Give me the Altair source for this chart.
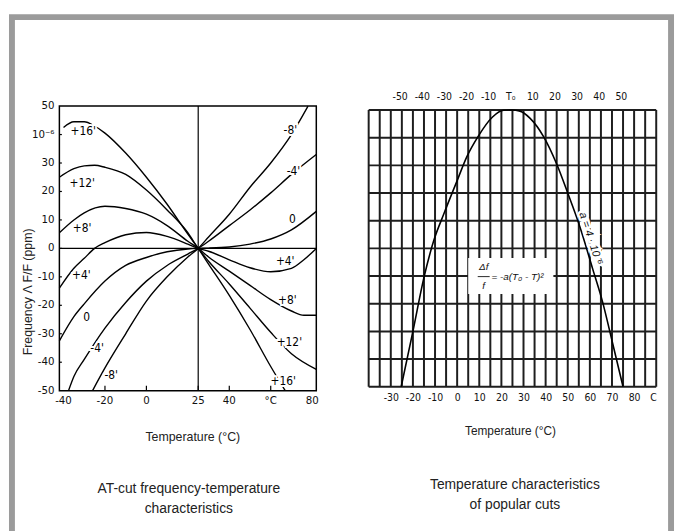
import altair as alt
import pandas as pd

NARROW = "Liberation Sans Narrow, DejaVu Sans Condensed, Liberation Sans, sans-serif"
SANS = "Liberation Sans, Arial, sans-serif"

# ---------------- Left chart: AT-cut curves (temperature °C, ΔF/F ppm) ----------------
curve_names = ["+16'", "+12'", "+8'", "+4'", "0", "-4'", "-8'"]
t_p16 = [-40, -35, -30, -25, -20, -10, 0, 10, 20, 25, 30, 40, 50, 60, 67]
v_p16 = [42.5, 44.5, 44.5, 43, 40.5, 33.5, 25, 15.5, 5, 0, -5.5, -16.5, -28.5, -41.5, -50]
t_p12 = [-42, -35, -30, -25, -20, -10, 0, 10, 20, 25, 30, 40, 50, 60, 70, 82]
v_p12 = [25, 28, 29, 29.2, 28.5, 26, 20.5, 13.5, 5.5, 0, -4.5, -12.5, -21, -29.5, -37, -42.5]
t_p8 = [-42, -35, -30, -20, -10, 0, 10, 20, 25, 30, 40, 50, 60, 70, 76, 82]
v_p8 = [5.5, 10, 12.5, 14.8, 14, 12, 8, 2.5, 0, -3, -8, -13, -18, -22, -23.5, -23.5]
t_p4 = [-42, -35, -30, -25, -20, -10, 0, 10, 20, 25, 30, 40, 50, 60, 70, 76, 82]
v_p4 = [-14, -7, -3.5, 0, 2, 4.8, 5.6, 4.2, 1.5, 0, -1, -4, -6.8, -8.2, -7, -4, 0]
t_z = [-42, -35, -30, -20, -10, 0, 10, 20, 25, 30, 40, 50, 60, 70, 82]
v_z = [-32.5, -24, -19.5, -11.5, -6, -3.2, -1.2, -0.2, 0, 0.1, 0.5, 1.5, 3.3, 6.5, 13]
t_m4 = [-37.6, -35, -30, -20, -10, 0, 10, 20, 25, 30, 40, 50, 60, 70, 82]
v_m4 = [-50, -45, -39, -28, -19, -11.5, -6, -2, 0, 2.5, 8, 13.5, 19.5, 26, 33]
t_m8 = [-26, -20, -10, 0, 10, 20, 25, 30, 40, 50, 60, 70, 78]
v_m8 = [-50, -42, -30, -18.5, -10, -3, 0, 4, 12, 21.5, 30, 40, 50]

lab_left_text = ["+16'", "+12'", "+8'", "+4'", "0", "-4'", "-8'"]
lab_left_t = [-30.5, -31, -31, -31.4, -28.8, -23.8, -17]
lab_left_v = [41.3, 23, 7.3, -9.4, -24.3, -35, -44.4]
lab_right_text = ["-8'", "-4'", "0", "+4'", "+8'", "+12'", "+16'"]
lab_right_t = [69.5, 71, 70.5, 67, 68, 69, 66]
lab_right_v = [41.7, 27, 10.4, -4.5, -18, -33, -46.5]

left_x_ticks = [-40, -20, 0, 25, 40, 60, 80]
left_x_labels = ["-40", "-20", "0", "25", "40", "°C", "80"]
left_y_ticks = [50, 40, 30, 20, 10, 0, -10, -20, -30, -40, -50]
left_y_labels = ["50", "10⁻⁶", "30", "20", "10", "0", "-10", "-20", "-30", "-40", "-50"]

# ---------------- Right chart: parabolic cut ----------------
par_t = [-25.3, -20, -15, -10.5, -6, 0, 4.3, 9.5, 16, 21, 25, 28, 33, 39, 45, 50, 55.4, 61.3, 65.8, 70.2, 75]
par_v = [-100, -80, -60.5, -47, -37.5, -25.5, -17, -9.5, -2.5, -0.1, 0, -0.3, -3, -9.5, -19.5, -30, -42, -57.5, -69.5, -84, -100]
grid_h = [0, -10, -20, -30, -40, -50, -60, -70, -80, -90, -100]
grid_v = list(range(-40, 95, 5))
bottom_ticks = [-30, -20, -10, 0, 10, 20, 30, 40, 50, 60, 70, 80, 90]
top_pos = [-26, -16, -6, 4, 14, 24, 34, 44, 54, 64, 74]
top_labels = ["-50", "-40", "-30", "-20", "-10", "T₀", "10", "20", "30", "40", "50"]

LW, LH = 260, 288
RW, RH = 291, 288

# ---------- left chart ----------
rows = []
for name, ts, vs in zip(curve_names,
                        [t_p16, t_p12, t_p8, t_p4, t_z, t_m4, t_m8],
                        [v_p16, v_p12, v_p8, v_p4, v_z, v_m4, v_m8]):
    for t, v in zip(ts, vs):
        rows.append({"curve": name, "t": t, "v": v})
curves_df = pd.DataFrame(rows)

lx = alt.Scale(domain=[-42, 82], nice=False, zero=False)
ly = alt.Scale(domain=[-50, 50], nice=False, zero=False)

ref_df = pd.DataFrame({"t": [25], "v": [0], "t0": [-42], "t1": [82], "v0": [-50], "v1": [50]})
ref_v = alt.Chart(ref_df).mark_rule(color="black", strokeWidth=1.2).encode(
    x=alt.X("t:Q", scale=lx, axis=None),
    y=alt.Y("v0:Q", scale=ly, axis=None), y2="v1:Q")
ref_h = alt.Chart(ref_df).mark_rule(color="black", strokeWidth=1.2).encode(
    y=alt.Y("v:Q", scale=ly, axis=None),
    x=alt.X("t0:Q", scale=lx, axis=None), x2="t1:Q")

curves = alt.Chart(curves_df).mark_line(
    color="black", strokeWidth=1.4, interpolate="monotone"
).encode(
    x=alt.X("t:Q", scale=lx, axis=None),
    y=alt.Y("v:Q", scale=ly, axis=None),
    detail="curve:N",
)

ity = pd.DataFrame({"v": left_y_ticks[1:-1], "a": [-42] * 9, "b": [-40.8] * 9})
inner_y_ticks = alt.Chart(ity).mark_rule(color="black", strokeWidth=1.2).encode(
    y=alt.Y("v:Q", scale=ly, axis=None), x=alt.X("a:Q", scale=lx, axis=None), x2="b:Q")
itx = pd.DataFrame({"t": left_x_ticks[1:-1], "a": [-50] * 5, "b": [-48.3] * 5})
inner_x_ticks = alt.Chart(itx).mark_rule(color="black", strokeWidth=1.2).encode(
    x=alt.X("t:Q", scale=lx, axis=None), y=alt.Y("a:Q", scale=ly, axis=None), y2="b:Q")

# tick labels and titles drawn as text through the scales
ylab = alt.Chart(pd.DataFrame({"v": left_y_ticks, "s": left_y_labels})).mark_text(
    font=NARROW, fontSize=11.5, color="#111", align="right", baseline="middle", dx=-5).encode(
    y=alt.Y("v:Q", scale=ly, axis=None), x=alt.value(0), text="s:N")
xlab = alt.Chart(pd.DataFrame({"t": left_x_ticks, "s": left_x_labels})).mark_text(
    font=NARROW, fontSize=11.5, color="#111", align="center", baseline="top", dy=4).encode(
    x=alt.X("t:Q", scale=lx, axis=None), y=alt.value(LH), text="s:N")
ytitle = alt.Chart(pd.DataFrame({"s": ["Frequency   Λ F/F (ppm)"]})).mark_text(
    font=SANS, fontSize=12.5, color="#222", angle=270, align="center", baseline="middle").encode(
    x=alt.value(-32), y=alt.value(188), text="s:N")
xtitle = alt.Chart(pd.DataFrame({"s": ["Temperature (°C)"]})).mark_text(
    font=SANS, fontSize=12.5, color="#222", align="center", baseline="middle").encode(
    x=alt.value(135), y=alt.value(LH + 47), text="s:N")

labs_df = pd.DataFrame({
    "t": lab_left_t + lab_right_t,
    "v": lab_left_v + lab_right_v,
    "txt": lab_left_text + lab_right_text,
})
lab_halo = alt.Chart(labs_df).mark_text(
    font=NARROW, fontSize=12, stroke="white", strokeWidth=4, color="white").encode(
    x=alt.X("t:Q", scale=lx, axis=None), y=alt.Y("v:Q", scale=ly, axis=None), text="txt:N")
lab_text = alt.Chart(labs_df).mark_text(
    font=NARROW, fontSize=12, color="#000").encode(
    x=alt.X("t:Q", scale=lx, axis=None), y=alt.Y("v:Q", scale=ly, axis=None), text="txt:N")

cap_left = alt.Chart(pd.DataFrame({"c": ["AT-cut frequency-temperature\ncharacteristics"]})).mark_text(
    font=SANS, fontSize=14, color="#222", lineBreak="\n", lineHeight=20, baseline="middle"
).encode(x=alt.value(131), y=alt.value(388), text="c:N")

left = alt.layer(ref_v, ref_h, curves, inner_y_ticks, inner_x_ticks,
                 lab_halo, lab_text, ylab, xlab, ytitle, xtitle, cap_left).properties(
    width=LW, height=LH,
    view=alt.ViewBackground(stroke="black", strokeWidth=1.5))

# ---------- right chart ----------
pad = 4 * 100 / 280
rx = alt.Scale(domain=[-40, 90], nice=False, zero=False)
ry = alt.Scale(domain=[-100 - pad, 0 + pad], nice=False, zero=False)

gh = alt.Chart(pd.DataFrame({"g": grid_h})).mark_rule(color="#1e1e1e", strokeWidth=2).encode(
    y=alt.Y("g:Q", scale=ry, axis=alt.Axis(
        values=grid_h, labelExpr="'' + datum.value", ticks=False, domain=False, grid=False,
        labelFont=NARROW, labelFontSize=10.5, labelColor="#111", labelPadding=6, title=None)))

gv = alt.Chart(pd.DataFrame({"g": grid_v, "y0": [0] * len(grid_v), "y1": [-100] * len(grid_v)})).mark_rule(
    color="#1e1e1e", strokeWidth=2).encode(
    x=alt.X("g:Q", scale=rx, axis=alt.Axis(
        orient="top", values=top_pos,
        labelExpr="[" + ",".join("'" + s + "'" for s in top_labels) + "][indexof(["
                  + ",".join(str(p) for p in top_pos) + "], datum.value)]",
        ticks=False, domain=False, grid=False, labelFont=NARROW, labelFontSize=10.5,
        labelColor="#111", labelPadding=5, title=None)),
    y=alt.Y("y0:Q", scale=ry, axis=None), y2="y1:Q")

parab = alt.Chart(pd.DataFrame({"t": par_t, "v": par_v})).mark_line(
    color="black", strokeWidth=1.6, interpolate="monotone").encode(
    x=alt.X("t:Q", scale=rx, axis=alt.Axis(
        orient="bottom", values=bottom_ticks,
        labelExpr="datum.value == 90 ? 'C' : '' + datum.value",
        ticks=False, domain=False, grid=False, labelFont=NARROW, labelFontSize=10.5,
        labelColor="#111", labelPadding=2, title="Temperature (°C)", titleFont=SANS,
        titleFontSize=12, titleFontWeight="normal", titleColor="#222",
        titleX=143, titleY=40, titleBaseline="middle", titleAlign="center")),
    y=alt.Y("v:Q", scale=ry, axis=None))

box_t0, box_t1, box_v0, box_v1 = [5], [43.5], [-53.5], [-66.5]
box = alt.Chart(pd.DataFrame({"a": box_t0, "b": box_t1, "c": box_v0, "d": box_v1})).mark_rect(
    color="white").encode(
    x=alt.X("a:Q", scale=rx, axis=None), x2="b:Q",
    y=alt.Y("c:Q", scale=ry, axis=None), y2="d:Q")
f_txt = ["Δf", "f", "= -a(T₀ - T)²"]
f_t = [12, 12, 15.5]
f_v = [-56.6, -63.6, -60.3]
formula_c = alt.Chart(pd.DataFrame({"t": f_t[:2], "v": f_v[:2], "s": f_txt[:2]})).mark_text(
    font=SANS, fontSize=10, fontStyle="italic", color="#111").encode(
    x=alt.X("t:Q", scale=rx, axis=None), y=alt.Y("v:Q", scale=ry, axis=None), text="s:N")
formula_l = alt.Chart(pd.DataFrame({"t": f_t[2:], "v": f_v[2:], "s": f_txt[2:]})).mark_text(
    font=SANS, fontSize=10, fontStyle="italic", color="#111", align="left").encode(
    x=alt.X("t:Q", scale=rx, axis=None), y=alt.Y("v:Q", scale=ry, axis=None), text="s:N")
bar_t0, bar_t1, bar_v = [9.3], [14.7], [-60.2]
frac_bar = alt.Chart(pd.DataFrame({"a": bar_t0, "b": bar_t1, "v": bar_v})).mark_rule(
    color="#111", strokeWidth=0.9).encode(
    x=alt.X("a:Q", scale=rx, axis=None), x2="b:Q", y=alt.Y("v:Q", scale=ry, axis=None))

a_txt = ["a = 4 · 10⁻⁶"]
a_t, a_v = [60.3], [-46.5]
a_halo = alt.Chart(pd.DataFrame({"t": a_t, "v": a_v, "s": a_txt})).mark_text(
    font=SANS, fontSize=11, fontStyle="italic", angle=72, color="white", stroke="white",
    strokeWidth=5).encode(
    x=alt.X("t:Q", scale=rx, axis=None), y=alt.Y("v:Q", scale=ry, axis=None), text="s:N")
a_label = alt.Chart(pd.DataFrame({"t": a_t, "v": a_v, "s": a_txt})).mark_text(
    font=SANS, fontSize=11, fontStyle="italic", angle=72, color="#111").encode(
    x=alt.X("t:Q", scale=rx, axis=None), y=alt.Y("v:Q", scale=ry, axis=None), text="s:N")

cap_right = alt.Chart(pd.DataFrame({"c": ["Temperature characteristics\nof popular cuts"]})).mark_text(
    font=SANS, fontSize=14, color="#222", lineBreak="\n", lineHeight=20, baseline="middle"
).encode(x=alt.value(148), y=alt.value(384), text="c:N")

# grey frame around the whole figure (page decoration), relative to the right panel
frame = alt.Chart(pd.DataFrame({"k": [0]})).mark_rect(
    fill="transparent", stroke="#9b9b9b", strokeWidth=6
).encode(x=alt.value(-361), x2=alt.value(306), y=alt.value(-90), y2=alt.value(445))

right = alt.layer(gh, gv, parab, box, formula_c, formula_l, frac_bar, a_halo, a_label,
                  cap_right, frame).properties(
    width=RW, height=RH,
    view=alt.ViewBackground(stroke="transparent"))

chart = alt.hconcat(left, right, spacing=53, bounds="flush").properties(
    padding={"top": 2, "left": 0, "right": 0, "bottom": 0},
    background="white",
).configure_view(stroke="black")

chart.save("out.html", embed_options={"renderer": "svg", "actions": False})
